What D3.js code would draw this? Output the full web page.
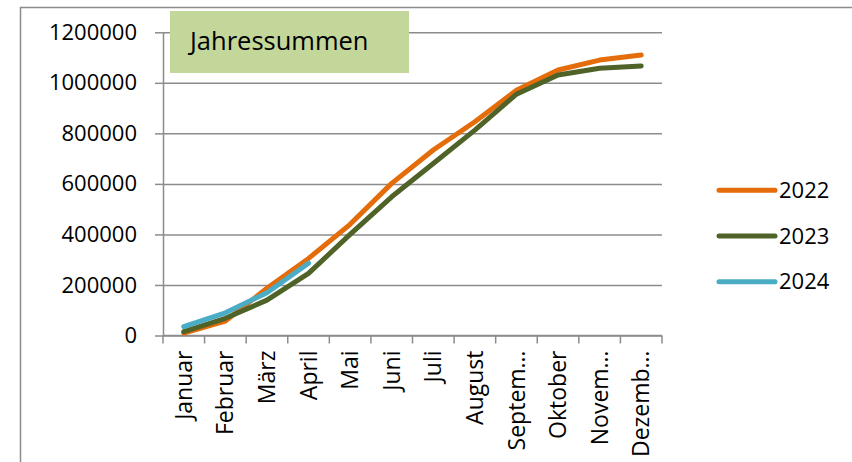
<!DOCTYPE html>
<html>
<head>
<meta charset="utf-8">
<script src="https://cdn.jsdelivr.net/npm/d3@7"></script>
<style>
  body { margin: 0; background: white; }
  svg { display: block; font-family: "Open Sans", sans-serif; }
</style>
</head>
<body>
<svg width="852" height="462"></svg>
<script>
const months = ["Januar", "Februar", "März", "April", "Mai", "Juni", "Juli", "August", "Septem…", "Oktober", "Novem…", "Dezemb…"]
const yTicks = [0, 200000, 400000, 600000, 800000, 1000000, 1200000]
const years = ["2022", "2023", "2024"]
const values2022 = [10000, 57000, 187000, 305000, 440000, 602000, 734000, 846000, 971000, 1051000, 1090000, 1110000]
const values2023 = [15000, 68000, 140000, 246000, 400000, 549000, 681000, 813000, 955000, 1031000, 1058000, 1067000]
const values2024 = [35000, 90000, 169000, 286000]
const colors = ["#E46C0A", "#4F6228", "#4BACC6"]

function drawChart() {
    const svg = d3.select("svg")
    const left = 163, right = 662, top = 32.3, bottom = 335.5
    const fontSize = 22
    const gridColor = "#8c8c8c"

    // outer chart border
    svg.append("rect")
        .attr("x", 20.5).attr("y", 7.5)
        .attr("width", 900).attr("height", 500)
        .attr("fill", "white")
        .attr("stroke", gridColor)
        .attr("stroke-width", 1.5)

    const x = d3.scaleBand().domain(months).range([left, right])
    const y = d3.scaleLinear().domain([0, 1200000]).range([bottom, top])

    // gridlines and y axis
    const yAxis = svg.append("g")
        .attr("transform", `translate(${left},0)`)
        .call(d3.axisLeft(y).tickValues(yTicks).tickSize(-(right - left)).tickSizeOuter(0).tickPadding(26).tickFormat(d3.format("d")))
    yAxis.select(".domain").attr("stroke", gridColor).attr("stroke-width", 1.5)
    yAxis.selectAll(".tick line").attr("stroke", gridColor).attr("stroke-width", 1.5)
    yAxis.selectAll(".tick").append("line")
        .attr("x1", -8).attr("x2", 0)
        .attr("stroke", gridColor).attr("stroke-width", 1.5)
    yAxis.selectAll(".tick text")
        .attr("font-size", fontSize).attr("fill", "black")
        .attr("font-family", "'Open Sans', sans-serif")

    // x axis, ticks at category boundaries
    const xAxis = svg.append("g").attr("transform", `translate(0,${bottom})`)
    xAxis.append("line")
        .attr("x1", left).attr("x2", right)
        .attr("stroke", gridColor).attr("stroke-width", 1.5)
    const bounds = months.map(m => x(m)).concat([right])
    xAxis.selectAll(".bound").data(bounds).enter().append("line")
        .attr("x1", d => d).attr("x2", d => d)
        .attr("y1", 0).attr("y2", 8)
        .attr("stroke", gridColor).attr("stroke-width", 1.5)
    xAxis.selectAll(".lbl").data(months).enter().append("text")
        .attr("transform", d => `translate(${x(d) + x.bandwidth() / 2},15) rotate(-90)`)
        .attr("text-anchor", "end")
        .attr("dy", "0.35em")
        .attr("font-size", 23)
        .text(d => d)

    // title box
    svg.append("rect")
        .attr("x", 170).attr("y", 11)
        .attr("width", 239).attr("height", 62)
        .attr("fill", "#C4D79B")
    svg.append("text")
        .attr("x", 190).attr("y", 50)
        .attr("font-size", 25.5)
        .text("Jahressummen")

    // lines
    const line = d3.line()
        .x((d, i) => x(months[i]) + x.bandwidth() / 2)
        .y(d => y(d))
    const series = [values2022, values2023, values2024]
    svg.selectAll(".series").data(series).enter().append("path")
        .attr("d", d => line(d))
        .attr("fill", "none")
        .attr("stroke", (d, i) => colors[i])
        .attr("stroke-width", 5)
        .attr("stroke-linecap", "round")
        .attr("stroke-linejoin", "round")

    // legend
    const legend = svg.selectAll(".legend").data(years).enter().append("g")
        .attr("transform", (d, i) => `translate(719,${190.3 + i * 45.7})`)
    legend.append("line")
        .attr("x1", 0).attr("x2", 56)
        .attr("stroke", (d, i) => colors[i])
        .attr("stroke-width", 5)
        .attr("stroke-linecap", "round")
    legend.append("text")
        .attr("x", 60).attr("dy", "0.35em")
        .attr("font-size", fontSize)
        .text(d => d)
}
drawChart()
</script>
</body>
</html>
